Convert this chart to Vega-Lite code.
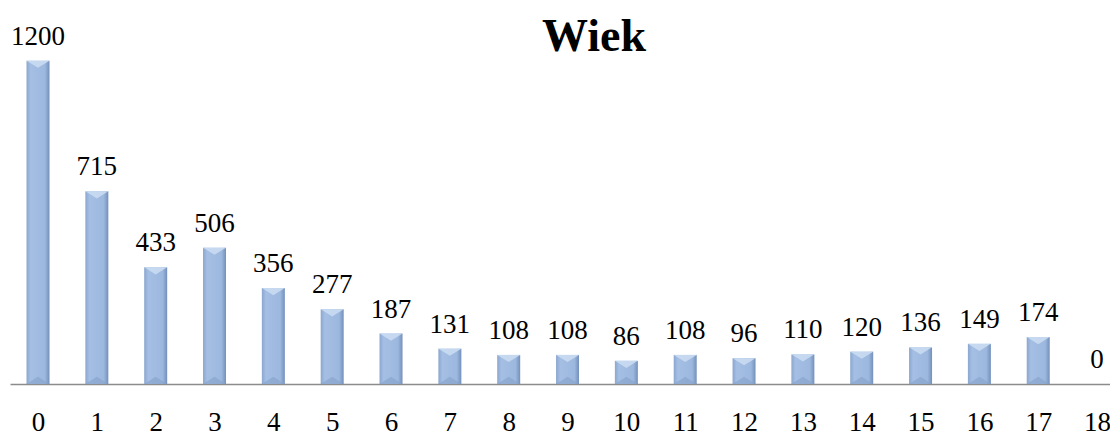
{
  "$schema": "https://vega.github.io/schema/vega-lite/v6.json",
  "autosize": {"type": "none"},
  "padding": {"left": 10, "top": 0, "right": 0, "bottom": 50},
  "width": 1100,
  "height": 384,
  "background": "white",
  "title": {
    "text": "Wiek",
    "font": "Times New Roman, Liberation Serif, serif",
    "fontSize": 46,
    "fontWeight": "bold",
    "color": "black",
    "anchor": "middle",
    "baseline": "alphabetic",
    "offset": -97,
    "dx": 34
  },
  "data": {
    "values": [
      {"Wiek": 0, "count": 1200},
      {"Wiek": 1, "count": 715},
      {"Wiek": 2, "count": 433},
      {"Wiek": 3, "count": 506},
      {"Wiek": 4, "count": 356},
      {"Wiek": 5, "count": 277},
      {"Wiek": 6, "count": 187},
      {"Wiek": 7, "count": 131},
      {"Wiek": 8, "count": 108},
      {"Wiek": 9, "count": 108},
      {"Wiek": 10, "count": 86},
      {"Wiek": 11, "count": 108},
      {"Wiek": 12, "count": 96},
      {"Wiek": 13, "count": 110},
      {"Wiek": 14, "count": 120},
      {"Wiek": 15, "count": 136},
      {"Wiek": 16, "count": 149},
      {"Wiek": 17, "count": 174},
      {"Wiek": 18, "count": 0}
    ]
  },
  "config": {"view": {"stroke": null}},
  "encoding": {
    "x": {
      "field": "Wiek",
      "type": "quantitative",
      "scale": {"domain": [-0.476, 18.22], "nice": false, "zero": false, "padding": 0},
      "axis": {
        "title": null,
        "values": [0,1,2,3,4,5,6,7,8,9,10,11,12,13,14,15,16,17,18],
        "format": "d",
        "grid": false,
        "ticks": false,
        "domainColor": "#8c8c8c",
        "domainWidth": 1.3,
        "labelFont": "Times New Roman, Liberation Serif, serif",
        "labelFontSize": 27,
        "labelColor": "black",
        "labelBaseline": "alphabetic",
        "labelPadding": 46,
        "labelFlush": false,
        "labelOverlap": false
      }
    },
    "y": {
      "field": "count",
      "type": "quantitative",
      "scale": {"domain": [0, 1425], "nice": false},
      "axis": null
    }
  },
  "layer": [
    {
      "transform": [{"filter": "datum.count > 0"}],
      "mark": {
        "type": "bar",
        "width": 23,
        "strokeWidth": 0,
        "fill": {
          "gradient": "linear",
          "x1": 0, "x2": 1, "y1": 0, "y2": 0,
          "stops": [
            {"offset": 0, "color": "#8ca7cf"},
            {"offset": 0.18, "color": "#a4bee4"},
            {"offset": 0.8, "color": "#9db8de"},
            {"offset": 1, "color": "#7390bb"}
          ]
        }
      }
    },
    {
      "transform": [{"filter": "datum.count > 0"}],
      "mark": {
        "type": "point",
        "shape": "M -1 0 L 1 0 L 0 0.62 Z",
        "size": 529,
        "filled": true,
        "color": "#c9dbf2",
        "opacity": 0.9,
        "strokeWidth": 0
      }
    },
    {
      "transform": [{"filter": "datum.count > 0"}],
      "mark": {
        "type": "point",
        "shape": "M -1 0 L 1 0 L 0 -0.62 Z",
        "size": 529,
        "filled": true,
        "color": "#86a1c9",
        "opacity": 0.6,
        "strokeWidth": 0
      },
      "encoding": {"y": {"datum": 0, "type": "quantitative"}}
    },
    {
      "mark": {
        "type": "text",
        "font": "Times New Roman, Liberation Serif, serif",
        "fontSize": 27,
        "color": "black",
        "baseline": "alphabetic",
        "align": "center",
        "dy": -16
      },
      "encoding": {"text": {"field": "count", "type": "quantitative"}}
    }
  ]
}
